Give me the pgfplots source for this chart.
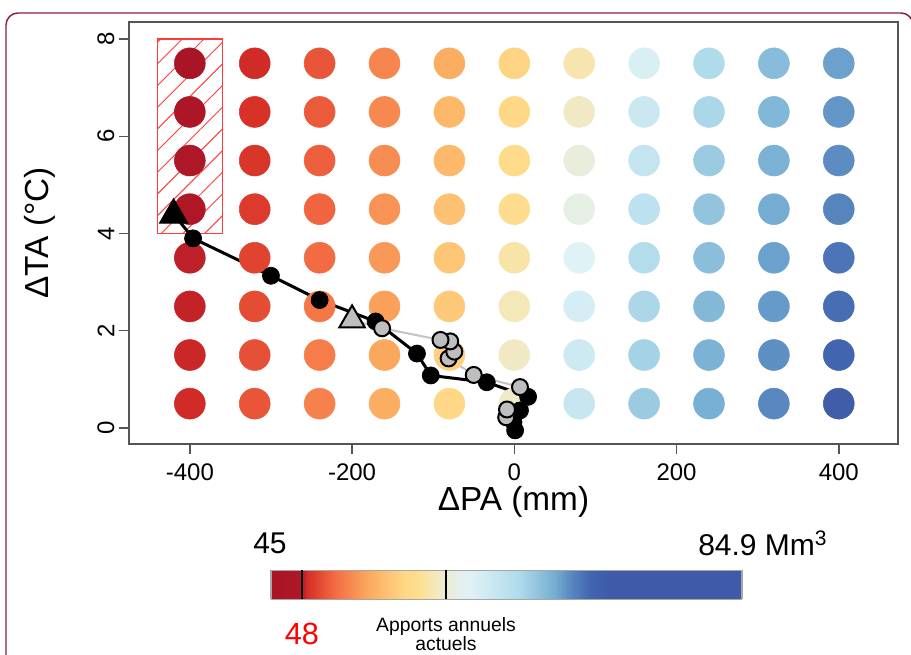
\documentclass[border=0pt]{standalone}
\usepackage{pgfplots}
\usepackage{pgfplotstable}
\pgfplotsset{compat=1.18}
\usepackage{fontspec}
\setmainfont{Liberation Sans}
\usetikzlibrary{patterns.meta,calc}
\definecolor{frame}{RGB}{140,30,55}
\definecolor{boxgray}{RGB}{85,85,85}
\definecolor{ptgray}{RGB}{190,190,190}
\definecolor{lngray}{RGB}{195,195,195}
\definecolor{hatchred}{RGB}{255,60,60}

\pgfplotstableread{
x y v
-400 7.5 45.68
-400 6.5 46.19
-400 5.5 46.69
-400 4.5 47.20
-400 3.5 47.80
-400 2.5 47.88
-400 1.5 47.97
-400 0.5 48.05
-320 7.5 48.05
-320 6.5 48.22
-320 5.5 48.39
-320 4.5 48.56
-320 3.5 48.90
-320 2.5 49.24
-320 1.5 49.41
-320 0.5 49.57
-240 7.5 49.57
-240 6.5 49.83
-240 5.5 50.00
-240 4.5 50.17
-240 3.5 50.42
-240 2.5 50.93
-240 1.5 51.18
-240 0.5 51.44
-160 7.5 51.61
-160 6.5 51.78
-160 5.5 51.95
-160 4.5 52.29
-160 3.5 52.54
-160 2.5 52.88
-160 1.5 53.22
-160 0.5 53.47
-80 7.5 53.56
-80 6.5 54.15
-80 5.5 54.32
-80 4.5 54.83
-80 3.5 55.17
-80 2.5 55.42
-80 1.5 55.93
-80 0.5 56.44
0 7.5 56.10
0 6.5 56.44
0 5.5 56.86
0 4.5 57.28
0 3.5 58.38
0 2.5 58.81
0 1.5 59.23
0 0.5 59.40
80 7.5 58.55
80 6.5 59.23
80 5.5 60.25
80 4.5 60.67
80 3.5 61.94
80 2.5 62.79
80 1.5 63.47
80 0.5 63.98
160 7.5 62.54
160 6.5 63.64
160 5.5 64.31
160 4.5 64.91
160 3.5 65.67
160 2.5 66.35
160 1.5 66.69
160 0.5 67.19
240 7.5 66.01
240 6.5 66.35
240 5.5 67.19
240 4.5 67.62
240 3.5 68.04
240 2.5 68.38
240 1.5 68.72
240 0.5 68.97
320 7.5 68.13
320 6.5 68.47
320 5.5 68.80
320 4.5 69.14
320 3.5 69.57
320 2.5 69.82
320 1.5 70.24
320 0.5 70.50
400 7.5 69.57
400 6.5 69.99
400 5.5 70.33
400 4.5 70.67
400 3.5 71.43
400 2.5 71.77
400 1.5 72.28
400 0.5 73.38
}\gridtab

\begin{document}
\begin{tikzpicture}
\useasboundingbox (0pt,0pt) rectangle (683.25pt,491.25pt);
\draw[frame, line width=1.1pt] (4.5pt,-8pt) -- (4.5pt,472.5pt) arc[start angle=180,end angle=90,radius=9pt] -- (675.75pt,481.5pt) arc[start angle=90,end angle=0,radius=9pt] -- (684.75pt,-8pt);

\begin{axis}[
  at={(96.75pt,158.25pt)}, anchor=south west,
  width=576.75pt, height=316.5pt, scale only axis,
  xmin=-475, xmax=473, ymin=-0.33, ymax=8.35,
  axis line style={draw=boxgray, line width=1.1pt},
  xtick={-400,-200,0,200,400}, xticklabels={-400,-200,0,200,400},
  ytick={0,2,4,6,8}, yticklabels={0,2,4,6,8},
  tick pos=left, tick align=outside, major tick length=7.5pt,
  tick style={boxgray, line width=1.1pt},
  ticklabel style={font=\fontsize{18}{20}\selectfont},
  yticklabel style={rotate=90, anchor=south},
  xticklabel style={anchor=north, yshift=-3.5pt},
  xlabel={ΔPA (mm)}, ylabel={ΔTA (°C)},
  label style={font=\fontsize{25}{28}\selectfont},
  xlabel style={at={(axis description cs:0.5,-0.137)}, anchor=center},
  ylabel style={at={(axis description cs:-0.1157,0.5)}, anchor=center},
  colormap={rdylbu}{
    rgb255(0pt)=(168,20,36) rgb255(31pt)=(176,24,40) rgb255(37pt)=(214,47,39)
    rgb255(65pt)=(244,109,67) rgb255(100pt)=(251,173,97) rgb255(135pt)=(254,216,134)
    rgb255(150pt)=(253,224,144) rgb255(165pt)=(243,232,190) rgb255(185pt)=(230,239,228)
    rgb255(200pt)=(223,242,246) rgb255(250pt)=(174,218,234) rgb255(285pt)=(116,173,209)
    rgb255(300pt)=(90,138,193) rgb255(320pt)=(66,102,176) rgb255(340pt)=(63,90,168)
    rgb255(471pt)=(63,90,168)},
  point meta min=45, point meta max=84.9,
  colorbar horizontal, colorbar sampled,
  colorbar style={
    samples=236,
    at={($(parent axis.south west)+(106.5pt,-108pt)$)}, anchor=south west,
    width=353.25pt, height=21.75pt, scale only axis,
    xtick={47.63,59.82}, xticklabels={,}, ytick=\empty,
    tick align=inside, xtick pos=left, major tick length=21.75pt,
    xtick style={black, line width=1.5pt},
    axis line style={draw=black!35, line width=0.8pt},
  },
]
\addplot[scatter, only marks, mark=*, mark size=11.6pt, scatter src=explicit,
  scatter/use mapped color={draw=mapped color, fill=mapped color}]
  table[x=x, y=y, meta=v] {\gridtab};

\addplot[draw=hatchred, line width=0.9pt,
  pattern={Lines[angle=45, distance=11.5pt, line width=0.7pt]}, pattern color=hatchred]
  coordinates {(-440,4) (-360,4) (-360,8) (-440,8) (-440,4)};

% black trajectory
\addplot[black, line width=2.25pt, mark=*, mark size=6.4pt, mark options={fill=black, line width=0.5pt}]
  coordinates {(1,-0.05) (-1,0.12) (7,0.36) (17,0.64) (-34,0.94) (-103,1.08) (-120,1.53)
               (-171,2.19) (-240,2.63) (-300,3.13) (-396,3.9)};
\addplot[black, line width=2.25pt] coordinates {(-396,3.9) (-420,4.4)};
\addplot[only marks, mark=triangle*, mark size=12pt, mark options={fill=black, draw=black, line width=1pt}]
  coordinates {(-420,4.38)};

% grey trajectory
\addplot[lngray, line width=1.5pt, mark=*, mark size=6pt, mark options={fill=ptgray, draw=black, line width=1.5pt}]
  coordinates {(-10,0.22) (-9,0.38) (7,0.84) (-50,1.09) (-81,1.43) (-74,1.57) (-79,1.78)
               (-91,1.81) (-163,2.05)};
\addplot[lngray, line width=1.5pt] coordinates {(-163,2.05) (-200,2.22)};
\addplot[only marks, mark=triangle*, mark size=11pt, mark options={fill=ptgray, draw=black, line width=1.5pt}]
  coordinates {(-200,2.22)};
\end{axis}

\node[font=\fontsize{22.5}{26}\selectfont] at (202.5pt,84pt) {45};
\node[font=\fontsize{22.5}{26}\selectfont, anchor=west, inner sep=0pt] at (523.5pt,84pt) {84.9 Mm\textsuperscript{3}};
\node[font=\fontsize{23}{26}\selectfont, text=red] at (226.5pt,15.75pt) {48};
\node[font=\fontsize{14.5}{13.5}\selectfont, align=center] at (334.5pt,15.75pt) {Apports annuels\\actuels};
\end{tikzpicture}
\end{document}
